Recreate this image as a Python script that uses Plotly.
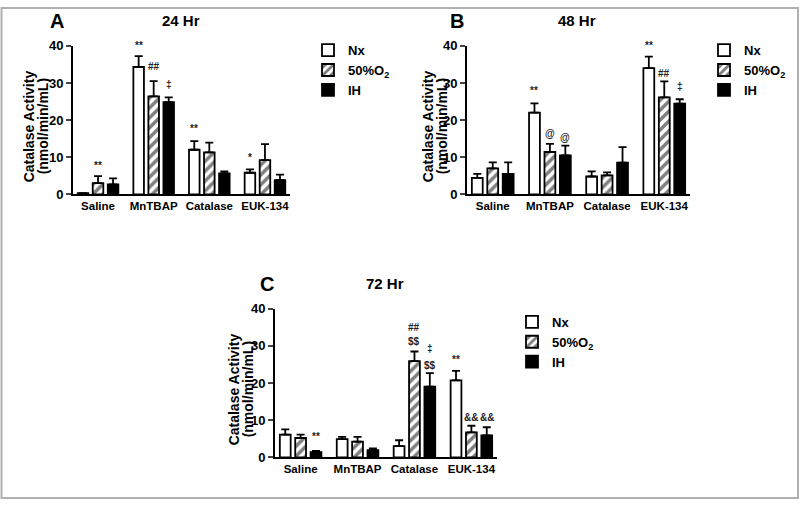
import plotly.graph_objects as go

W, H = 800, 508

categories = ["Saline", "MnTBAP", "Catalase", "EUK-134"]
series_names = ["Nx", "50%O<sub>2</sub>", "IH"]
ytitle_lines = ["Catalase Activity", "(nmol/min/mL)"]

# Panel A: 24 Hr
A_nx = [0.3, 34.3, 12.0, 5.8]
A_nx_err = [0.0, 2.9, 2.3, 0.9]
A_o2 = [3.0, 26.4, 11.3, 9.2]
A_o2_err = [1.9, 4.1, 2.6, 4.3]
A_ih = [2.7, 24.8, 5.6, 3.8]
A_ih_err = [1.6, 1.3, 0.6, 1.5]

# Panel B: 48 Hr
B_nx = [4.4, 22.0, 4.8, 34.0]
B_nx_err = [1.1, 2.5, 1.4, 3.1]
B_o2 = [7.0, 11.4, 5.1, 26.1]
B_o2_err = [1.6, 2.2, 0.8, 4.3]
B_ih = [5.5, 10.5, 8.5, 24.4]
B_ih_err = [3.1, 2.6, 4.2, 1.2]

# Panel C: 72 Hr
C_nx = [6.1, 4.9, 3.0, 20.7]
C_nx_err = [1.4, 0.6, 1.6, 2.6]
C_o2 = [5.2, 4.2, 25.9, 6.7]
C_o2_err = [0.9, 1.3, 2.6, 1.8]
C_ih = [1.4, 1.9, 19.0, 5.9]
C_ih_err = [0.3, 0.5, 3.7, 2.2]

# significance marks: (category index, series index, label, y value)
A_marks = [(0, 1, "**", 7.8), (1, 0, "**", 40.0), (1, 1, "##", 34.3),
           (1, 2, "‡", 29.5), (2, 0, "**", 17.8), (3, 0, "*", 9.9)]
B_marks = [(1, 0, "**", 28.0), (1, 1, "@", 16.5), (1, 2, "@", 15.2),
           (3, 0, "**", 40.0), (3, 1, "##", 32.6), (3, 2, "‡", 29.1)]
C_marks = [(0, 2, "**", 5.5), (2, 1, "##", 35.0), (2, 1, "$$", 31.1),
           (2, 2, "‡", 29.3), (2, 2, "$$", 24.6), (3, 0, "**", 26.4),
           (3, 1, "&&", 10.7), (3, 2, "&&", 10.7)]

panels = [
    dict(letter="A", title="24 Hr", vals=[A_nx, A_o2, A_ih], errs=[A_nx_err, A_o2_err, A_ih_err], marks=A_marks,
         px_x=(73, 290), px_y=(40, 193), letter_xy=(57, 14), title_xy=(181, 14), ytitle_xy=(29, 123), legend_xy=(308, 29)),
    dict(letter="B", title="48 Hr", vals=[B_nx, B_o2, B_ih], errs=[B_nx_err, B_o2_err, B_ih_err], marks=B_marks,
         px_x=(467, 690), px_y=(40, 193), letter_xy=(457, 14), title_xy=(577, 14), ytitle_xy=(428, 123), legend_xy=(704, 29)),
    dict(letter="C", title="72 Hr", vals=[C_nx, C_o2, C_ih], errs=[C_nx_err, C_o2_err, C_ih_err], marks=C_marks,
         px_x=(275, 497), px_y=(311, 464), letter_xy=(267, 285), title_xy=(385, 285), ytitle_xy=(234, 394), legend_xy=(512, 309)),
]

offsets = [-0.27, 0.0, 0.27]
bar_w = 0.19
FONT = "Arial, Liberation Sans, sans-serif"

fig = go.Figure()
layout = dict(
    width=W, height=H, margin=dict(l=0, r=0, t=0, b=0), autosize=False,
    paper_bgcolor="white", plot_bgcolor="white",
    barmode="overlay", font=dict(family=FONT, color="black"),
    annotations=[], shapes=[],
)


def styles(s):
    if s == 0:
        return dict(color="white", line=dict(color="black", width=1.8))
    if s == 1:
        return dict(color="white", line=dict(color="black", width=1.8),
                    pattern=dict(shape="/", fgcolor="black", bgcolor="white", size=7, solidity=0.5))
    return dict(color="black", line=dict(color="black", width=1.8))


for p, pan in enumerate(panels):
    k = "" if p == 0 else str(p + 1)
    xa, ya, lg = "x" + k, "y" + k, "legend" + k
    for s in range(3):
        fig.add_trace(go.Bar(
            x=[i + offsets[s] for i in range(len(categories))],
            y=pan["vals"][s], width=bar_w, name=series_names[s],
            marker=styles(s),
            error_y=dict(type="data", array=pan["errs"][s], arrayminus=[0] * len(categories),
                         symmetric=False, thickness=1.8, width=4, color="black"),
            xaxis=xa, yaxis=ya, legend=lg, showlegend=True,
        ))
    x0, x1 = pan["px_x"]
    y0, y1 = pan["px_y"]
    layout["xaxis" + k] = dict(
        domain=[x0 / W, x1 / W], anchor=ya, range=[-0.45, 3.45],
        tickvals=list(range(len(categories))), ticktext=categories,
        showline=True, linewidth=2, linecolor="black", ticks="", showgrid=False, zeroline=False,
        tickfont=dict(size=11.5, weight="bold", family=FONT), fixedrange=True,
    )
    layout["yaxis" + k] = dict(
        domain=[1 - y1 / H, 1 - y0 / H], anchor=xa, range=[0, 40], dtick=10,
        showline=True, linewidth=2, linecolor="black", ticks="outside", ticklen=5, tickwidth=2,
        showgrid=False, zeroline=False, tickfont=dict(size=13, weight="bold", family=FONT), fixedrange=True,
    )
    lx, ly = pan["legend_xy"]
    layout[lg] = dict(x=lx / W, y=1 - ly / H, xanchor="left", yanchor="top",
                      font=dict(size=13, weight="bold", family=FONT), bgcolor="rgba(0,0,0,0)",
                      tracegroupgap=0)
    for (ci, si, txt, yv) in pan["marks"]:
        layout["annotations"].append(dict(
            x=ci + offsets[si], y=yv, xref=xa, yref=ya, text=txt, showarrow=False,
            xanchor="center", yanchor="middle",
            font=dict(size=10, weight="bold", color="#222", family=FONT)))
    lx_, ly_ = pan["letter_xy"]
    layout["annotations"].append(dict(x=lx_ / W, y=1 - ly_ / H, xref="paper", yref="paper", text=pan["letter"],
                                      showarrow=False, xanchor="center", yanchor="middle",
                                      font=dict(size=20, weight="bold", family=FONT)))
    tx, ty = pan["title_xy"]
    layout["annotations"].append(dict(x=tx / W, y=1 - ty / H, xref="paper", yref="paper", text=pan["title"],
                                      showarrow=False, xanchor="center", yanchor="middle",
                                      font=dict(size=15, weight="bold", family=FONT)))
    yx, yy = pan["ytitle_xy"]
    for li, line in enumerate(ytitle_lines):
        layout["annotations"].append(dict(x=(yx + 14 * li) / W, y=1 - yy / H, xref="paper", yref="paper",
                                          text=line, textangle=-90,
                                          showarrow=False, xanchor="center", yanchor="middle",
                                          font=dict(size=14, weight="bold", family=FONT)))

layout["shapes"].append(dict(type="rect", xref="paper", yref="paper",
                             x0=1.5 / W, x1=1 - 2 / W, y0=2 / H, y1=1 - 1 / H,
                             line=dict(color="#b0b0b0", width=2)))

fig.update_layout(**layout)
fig.write_html("out.html", config={"responsive": False, "displayModeBar": False},
               post_script="document.body.style.margin='0';document.body.style.overflow='hidden';")
